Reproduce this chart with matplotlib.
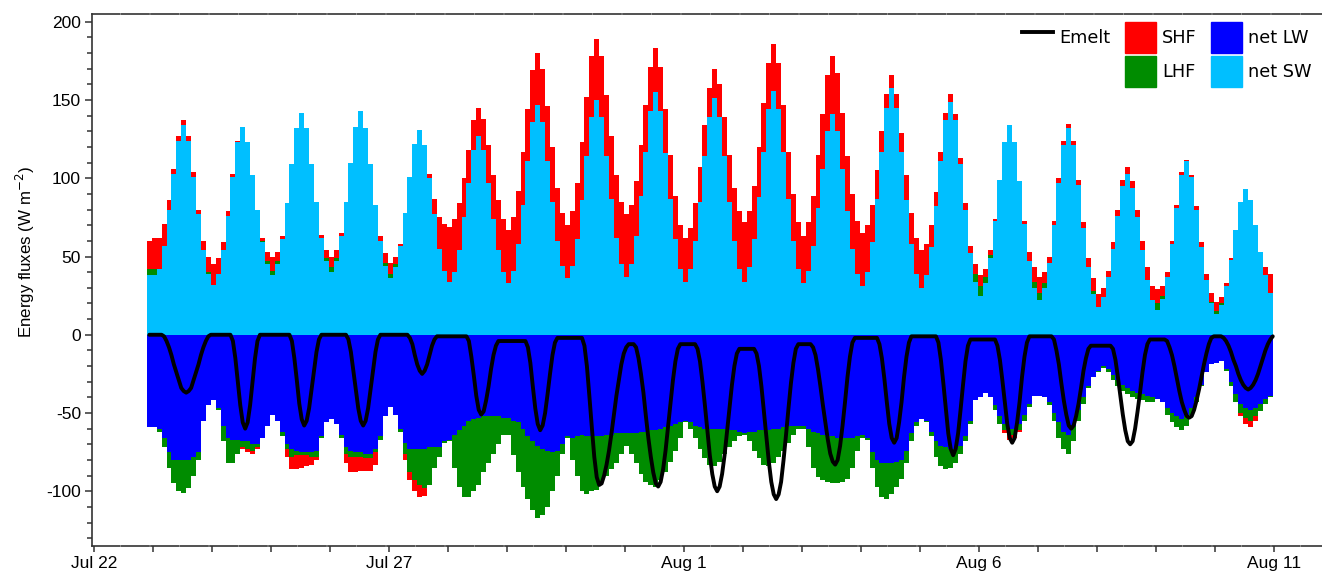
import numpy as np
import matplotlib
matplotlib.use("Agg")
import matplotlib.pyplot as plt
import matplotlib.dates as mdates
from matplotlib.lines import Line2D
from matplotlib.patches import Patch

plt.rcParams['font.family'] = ['Liberation Sans', 'DejaVu Sans']
plt.rcParams['axes.unicode_minus'] = False

# two-hourly bins centred on hh:30 (even hours); first bin Jul 22 22:30
first_sw, first_lw, first_lhf, first_shf = 38, -59, 4, 18

net_sw_days = [
    [38, 42, 57, 80, 103, 124, 134, 124, 101, 77, 54, 39],    # Jul 23
    [32, 39, 54, 76, 101, 123, 133, 123, 102, 80, 59, 45],    # Jul 24
    [38, 45, 61, 84, 109, 132, 142, 132, 109, 85, 62, 47],    # Jul 25
    [40, 47, 63, 85, 110, 133, 143, 132, 109, 83, 60, 44],    # Jul 26
    [36, 43, 57, 78, 101, 122, 131, 121, 100, 77, 55, 41],    # Jul 27
    [34, 40, 54, 75, 97, 118, 127, 118, 97, 74, 54, 40],      # Jul 28
    [33, 41, 58, 83, 111, 136, 147, 136, 111, 85, 60, 44],    # Jul 29
    [36, 44, 61, 86, 114, 139, 150, 139, 114, 87, 62, 45],    # Jul 30
    [37, 45, 63, 89, 117, 143, 155, 143, 116, 87, 61, 42],    # Jul 31
    [34, 42, 60, 85, 114, 139, 151, 139, 114, 85, 60, 42],    # Aug 1
    [34, 43, 61, 88, 117, 144, 156, 144, 117, 87, 60, 42],    # Aug 2
    [33, 41, 57, 81, 106, 130, 141, 130, 106, 79, 55, 39],    # Aug 3
    [31, 40, 59, 87, 117, 145, 158, 145, 117, 86, 58, 39],    # Aug 4
    [30, 38, 56, 82, 111, 137, 149, 137, 109, 80, 52, 34],    # Aug 5
    [25, 33, 49, 73, 99, 123, 134, 123, 98, 71, 47, 30],      # Aug 6
    [22, 30, 46, 70, 97, 121, 132, 121, 96, 68, 43, 26],      # Aug 7
    [18, 24, 37, 55, 76, 95, 103, 94, 75, 54, 35, 22],        # Aug 8
    [16, 23, 37, 58, 81, 102, 111, 101, 80, 56, 35, 20],      # Aug 9
    [13, 19, 31, 48, 67, 85, 93, 86, 70, 53, 38, 27],         # Aug 10
]

net_lw_days = [
    [-59, -60, -66, -75, -80, -80, -80, -80, -78, -75, -55, -45],
    [-42, -47, -58, -66, -67, -67, -68, -68, -70, -70, -66, -58],
    [-51, -55, -62, -70, -73, -74, -75, -75, -75, -74, -65, -56],
    [-54, -57, -64, -72, -74, -75, -75, -76, -76, -73, -65, -52],
    [-46, -51, -60, -69, -73, -73, -73, -73, -72, -72, -72, -68],
    [-67, -64, -61, -58, -55, -54, -53, -52, -52, -52, -52, -53],
    [-53, -55, -56, -60, -65, -68, -71, -73, -74, -75, -74, -70],
    [-65, -66, -65, -64, -65, -65, -65, -65, -64, -64, -63, -63],
    [-63, -63, -63, -62, -62, -61, -61, -60, -59, -58, -57, -56],
    [-55, -56, -58, -59, -60, -60, -60, -60, -60, -61, -61, -62],
    [-63, -62, -62, -61, -61, -61, -60, -60, -59, -58, -58, -58],
    [-58, -60, -62, -63, -64, -65, -65, -66, -66, -66, -66, -65],
    [-64, -66, -75, -80, -82, -82, -82, -81, -80, -74, -63, -56],
    [-54, -55, -62, -68, -71, -72, -73, -73, -71, -65, -55, -42],
    [-40, -37, -40, -45, -52, -57, -60, -60, -57, -51, -44, -39],
    [-39, -40, -43, -50, -56, -62, -64, -58, -48, -40, -33, -27],
    [-23, -20, -22, -26, -29, -32, -34, -36, -37, -38, -39, -40],
    [-41, -43, -47, -50, -52, -54, -52, -47, -40, -32, -24, -19],
    [-18, -17, -22, -30, -38, -44, -47, -48, -47, -44, -41, -39],
]

lhf_days = [
    [4, -2, -6, -10, -15, -20, -21, -18, -12, -5, 0, 1],
    [0, -1, -10, -16, -15, -9, -4, -5, -4, -2, 1, 2],
    [3, 2, -3, -3, -5, -3, -2, -2, -3, -4, -1, 2],
    [3, 2, -2, -4, -4, -3, -3, -3, -3, -2, -2, 2],
    [3, 2, -2, -7, -15, -20, -23, -25, -24, -13, -6, -1],
    [-1, -21, -36, -46, -49, -46, -43, -36, -30, -24, -18, -11],
    [-11, -22, -32, -37, -40, -44, -46, -42, -36, -25, -16, -6],
    [-1, -14, -25, -36, -37, -35, -34, -29, -26, -22, -19, -13],
    [-8, -13, -19, -27, -32, -35, -36, -33, -29, -23, -17, -10],
    [-1, -4, -8, -14, -19, -23, -24, -21, -16, -11, -7, -3],
    [-1, -6, -12, -18, -22, -23, -22, -18, -15, -11, -6, -2],
    [-2, -12, -23, -28, -29, -29, -30, -29, -28, -26, -19, -9],
    [-2, -1, -10, -17, -22, -23, -20, -16, -12, -8, -5, -2],
    [0, -1, -3, -10, -13, -14, -12, -9, -5, -3, -2, 5],
    [6, 4, 2, -3, -5, -4, -4, -4, -4, -4, -2, 4],
    [5, 3, -2, -5, -10, -11, -12, -10, -7, -4, -1, 2],
    [-1, -1, -2, -3, -4, -4, -4, -4, -4, -4, -4, -3],
    [4, 2, -4, -6, -7, -7, -6, -4, -3, -1, 0, 1],
    [2, 1, -1, -3, -5, -6, -6, -7, -5, -5, -3, -1],
]

shf_days = [
    [20, 20, 14, 6, 3, 3, 3, 3, 3, 3, 6, 10],
    [13, 10, 5, 3, 2, 1, -1, -2, -2, -1, 2, 6],
    [9, 6, 2, -5, -8, -9, -8, -7, -5, -2, 2, 5],
    [7, 5, 2, -6, -10, -10, -9, -8, -8, -8, 3, 6],
    [7, 5, 1, -4, -5, -7, -8, -5, 3, 10, 20, 30],
    [35, 34, 30, 25, 21, 19, 18, 20, 24, 28, 32, 34],
    [34, 34, 34, 34, 33, 33, 33, 34, 35, 35, 34, 34],
    [34, 35, 36, 37, 38, 39, 39, 39, 39, 40, 40, 40],
    [40, 38, 35, 32, 30, 28, 28, 28, 28, 28, 28, 28],
    [28, 26, 24, 22, 20, 19, 19, 21, 25, 30, 34, 37],
    [38, 36, 34, 32, 31, 30, 30, 30, 30, 30, 30, 30],
    [30, 31, 32, 34, 35, 36, 37, 37, 36, 35, 35, 34],
    [34, 30, 24, 18, 13, 9, 8, 9, 12, 16, 20, 23],
    [24, 20, 14, 9, 6, 5, 5, 4, 4, 4, 5, 6],
    [7, 5, 3, 1, 0, -2, -3, -2, -1, 2, 6, 9],
    [10, 7, 4, 3, 3, 3, 3, 3, 3, 4, 6, 8],
    [8, 6, 4, 4, 4, 4, 4, 4, 5, 6, 8, 9],
    [9, 6, 3, 2, 2, 2, 1, 1, 2, 3, 4, 6],
    [6, 4, 2, 1, 0, -2, -4, -4, -3, 0, 5, 12],
]

# hourly melt energy, centred on hh:30; first two values Jul 22 22:30, 23:30
emelt_first = [0, 0]
emelt_days = [
    [0, 0, 0, 0, -1, -4, -8, -13, -19, -24, -29, -34, -36, -37, -36, -34, -29, -24, -19, -13, -8, -4, -1, 0],
    [0, 0, 0, 0, 0, 0, 0, 0, -4, -15, -30, -45, -56, -60, -56, -45, -30, -15, -4, 0, 0, 0, 0, 0],
    [0, 0, 0, 0, 0, 0, 0, 0, -4, -15, -29, -44, -54, -58, -55, -47, -35, -23, -11, -3, 0, 0, 0, 0],
    [0, 0, 0, 0, 0, 0, 0, -3, -11, -23, -35, -47, -55, -58, -55, -47, -35, -23, -11, -3, 0, 0, 0, 0],
    [0, 0, 0, 0, 0, 0, 0, 0, -2, -6, -13, -19, -23, -25, -23, -19, -13, -7, -3, -1, -1, -1, -1, -1],
    [-1, -1, -1, -1, -1, -1, -1, -1, -4, -14, -26, -39, -48, -51, -49, -42, -33, -22, -13, -7, -4, -4, -4, -4],
    [-4, -4, -4, -4, -4, -4, -4, -4, -8, -18, -33, -47, -57, -61, -58, -50, -38, -25, -13, -5, -2, -2, -2, -2],
    [-2, -2, -2, -2, -2, -2, -2, -7, -20, -39, -59, -78, -91, -96, -95, -90, -83, -74, -63, -51, -39, -29, -19, -12],
    [-8, -6, -6, -6, -8, -15, -25, -37, -52, -66, -78, -88, -95, -97, -94, -86, -74, -59, -44, -29, -17, -9, -6, -6],
    [-6, -6, -6, -6, -6, -9, -17, -30, -45, -61, -77, -89, -97, -100, -97, -89, -77, -62, -47, -32, -20, -12, -9, -9],
    [-9, -9, -9, -9, -9, -12, -20, -33, -49, -65, -81, -94, -102, -105, -102, -94, -80, -64, -47, -31, -18, -9, -6, -6],
    [-6, -6, -6, -6, -8, -13, -22, -33, -45, -56, -67, -76, -81, -83, -80, -71, -58, -43, -27, -14, -5, -2, -2, -2],
    [-2, -2, -2, -2, -2, -2, -2, -6, -15, -28, -43, -57, -66, -69, -66, -56, -43, -27, -14, -5, -1, -1, -1, -1],
    [-1, -1, -1, -1, -1, -1, -1, -5, -16, -31, -47, -63, -73, -77, -73, -63, -48, -32, -17, -7, -3, -3, -3, -3],
    [-3, -3, -3, -3, -3, -3, -3, -7, -16, -29, -43, -57, -66, -69, -66, -56, -43, -27, -14, -5, -1, -1, -1, -1],
    [-1, -1, -1, -1, -1, -1, -3, -10, -19, -31, -42, -51, -58, -60, -58, -52, -44, -34, -23, -15, -9, -7, -7, -7],
    [-7, -7, -7, -7, -7, -7, -9, -16, -27, -39, -51, -61, -68, -70, -68, -60, -49, -37, -24, -13, -6, -3, -3, -3],
    [-3, -3, -3, -3, -4, -8, -13, -20, -28, -36, -43, -48, -52, -53, -52, -48, -42, -35, -27, -19, -12, -6, -2, -1],
    [-1, -1, -1, -2, -4, -7, -11, -16, -20, -25, -29, -32, -34, -35, -34, -32, -29, -25, -20, -15, -10, -6, -3, -1],
]

major_dates = ['2019-07-22', '2019-07-27', '2019-08-01', '2019-08-06', '2019-08-11']

c_sw, c_lw, c_lhf, c_shf = '#00BFFF', '#0000FF', '#008C00', '#FF0000'


def series(first, days):
    return np.array([first] + [v for d in days for v in d], dtype=float)


sw = series(first_sw, net_sw_days)
lw = series(first_lw, net_lw_days)
lhf = series(first_lhf, lhf_days)
shf = series(first_shf, shf_days)
emelt = np.array(emelt_first + [v for d in emelt_days for v in d], dtype=float)

t_start = np.datetime64('2019-07-22T21:30')
edges = mdates.date2num(t_start + np.arange(len(sw) + 1) * np.timedelta64(2, 'h'))
t_em = mdates.date2num(np.datetime64('2019-07-22T22:30')
                       + np.arange(len(emelt)) * np.timedelta64(1, 'h'))

lhf_p, lhf_n = np.clip(lhf, 0, None), np.clip(lhf, None, 0)
shf_p, shf_n = np.clip(shf, 0, None), np.clip(shf, None, 0)

fig = plt.figure(figsize=(13.22, 5.73), dpi=100)
ax = fig.add_axes([92 / 1322, 27 / 573, 1230 / 1322, 532 / 573])

# positive stack: SW, LHF, SHF
ax.stairs(sw, edges, baseline=0, fill=True, color=c_sw, lw=0)
ax.stairs(sw + lhf_p, edges, baseline=sw, fill=True, color=c_lhf, lw=0)
ax.stairs(sw + lhf_p + shf_p, edges, baseline=sw + lhf_p, fill=True, color=c_shf, lw=0)
# negative stack: LW, LHF, SHF
ax.stairs(lw, edges, baseline=0, fill=True, color=c_lw, lw=0)
ax.stairs(lw + lhf_n, edges, baseline=lw, fill=True, color=c_lhf, lw=0)
ax.stairs(lw + lhf_n + shf_n, edges, baseline=lw + lhf_n, fill=True, color=c_shf, lw=0)

ax.plot(t_em, emelt, color='black', lw=2.8, solid_capstyle='round')

x0 = mdates.date2num(np.datetime64('2019-07-22T00:00'))
ax.set_xlim(x0 - 2 / 59, x0 + 1228 / 59)
ax.set_ylim(-135, 205)

ax.xaxis.set_major_locator(matplotlib.ticker.FixedLocator(mdates.date2num(np.array(major_dates, dtype='datetime64[D]'))))
ax.xaxis.set_minor_locator(mdates.DayLocator())
ax.xaxis.set_major_formatter(mdates.DateFormatter('%b %-d'))
ax.yaxis.set_major_locator(matplotlib.ticker.MultipleLocator(50))
ax.yaxis.set_minor_locator(matplotlib.ticker.MultipleLocator(10))

spine_c = '#333333'
for s in ['left', 'bottom', 'top']:
    ax.spines[s].set_color(spine_c)
    ax.spines[s].set_linewidth(1.2)
# horizontal axis lines are broken every half day
for s in ['bottom', 'top']:
    ax.spines[s].set_linestyle((0, (16.5, 1.2)))
ax.spines['right'].set_visible(False)
ax.tick_params(axis='both', which='both', colors=spine_c, labelcolor='black',
               labelsize=12.5, width=1.1)
ax.tick_params(axis='x', which='both', length=4.5, pad=3)
ax.tick_params(axis='y', which='major', length=5, pad=3)
ax.tick_params(axis='y', which='minor', length=3.5)

ax.set_ylabel('Energy fluxes (W m$^{-2}$)', fontsize=12.2)
ax.yaxis.set_label_coords(-0.045, 0.552)

handles = [Line2D([], [], color='black', lw=2.8),
           Patch(visible=False),
           Patch(color=c_shf), Patch(color=c_lhf),
           Patch(color=c_lw), Patch(color=c_sw)]
labels = ['Emelt', '', 'SHF', 'LHF', 'net LW', 'net SW']
ax.legend(handles, labels, ncol=3, loc='upper right', frameon=False,
          bbox_to_anchor=(1312 / 1322, 1 - 22 / 573), bbox_transform=fig.transFigure,
          borderaxespad=0, borderpad=0, prop={'family': 'DejaVu Sans', 'size': 12.8},
          handlelength=1.75, handleheight=2.3, handletextpad=0.35,
          columnspacing=0.8, labelspacing=0.2)

fig.savefig('out.png', dpi=100)
